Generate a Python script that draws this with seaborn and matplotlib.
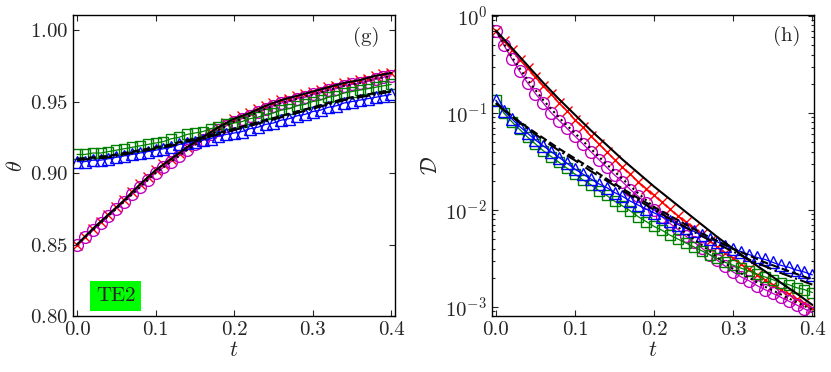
import numpy as np
import pandas as pd
import matplotlib
matplotlib.use("Agg")
import matplotlib.pyplot as plt
import seaborn as sns

# time grids
t_pts = np.round(np.arange(0, 0.4001, 0.01), 2)   # markers
t_line = np.round(np.arange(0, 0.4001, 0.02), 2)  # black curves

# ---- panel (g): theta ----
theta_cross = [0.850, 0.855, 0.861, 0.866, 0.871, 0.876, 0.881, 0.887, 0.892, 0.897,
               0.902, 0.906, 0.910, 0.914, 0.918, 0.922, 0.925, 0.929, 0.932, 0.935,
               0.938, 0.940, 0.942, 0.945, 0.947, 0.949, 0.951, 0.952, 0.954, 0.955,
               0.957, 0.958, 0.960, 0.961, 0.963, 0.964, 0.965, 0.966, 0.968, 0.969, 0.970]
theta_circle = [0.850, 0.855, 0.860, 0.865, 0.870, 0.875, 0.880, 0.885, 0.890, 0.895,
                0.900, 0.904, 0.908, 0.912, 0.916, 0.920, 0.923, 0.927, 0.930, 0.933,
                0.936, 0.938, 0.940, 0.943, 0.945, 0.947, 0.949, 0.950, 0.952, 0.953,
                0.955, 0.956, 0.958, 0.959, 0.961, 0.962, 0.963, 0.964, 0.966, 0.967, 0.968]
theta_square = [0.913, 0.913, 0.914, 0.914, 0.915, 0.916, 0.917, 0.918, 0.919, 0.920,
                0.921, 0.922, 0.924, 0.925, 0.927, 0.928, 0.929, 0.931, 0.932, 0.934,
                0.935, 0.936, 0.938, 0.939, 0.941, 0.942, 0.944, 0.945, 0.947, 0.948,
                0.950, 0.951, 0.953, 0.954, 0.956, 0.957, 0.958, 0.959, 0.960, 0.961, 0.962]
theta_triangle = [0.908, 0.908, 0.909, 0.909, 0.910, 0.911, 0.912, 0.913, 0.914, 0.915,
                  0.916, 0.917, 0.918, 0.920, 0.921, 0.922, 0.923, 0.924, 0.926, 0.927,
                  0.928, 0.929, 0.931, 0.932, 0.934, 0.935, 0.937, 0.938, 0.940, 0.941,
                  0.943, 0.944, 0.946, 0.947, 0.949, 0.950, 0.951, 0.952, 0.953, 0.954, 0.955]
theta_solid = [0.850, 0.861, 0.871, 0.881, 0.892, 0.902, 0.910, 0.918, 0.925, 0.932, 0.938,
               0.942, 0.947, 0.951, 0.954, 0.957, 0.960, 0.963, 0.965, 0.968, 0.970]
theta_dotted = [0.850, 0.860, 0.870, 0.880, 0.890, 0.900, 0.908, 0.916, 0.923, 0.930, 0.936,
                0.940, 0.945, 0.949, 0.952, 0.955, 0.958, 0.961, 0.963, 0.966, 0.968]
theta_dashed = [0.910, 0.911, 0.912, 0.914, 0.916, 0.918, 0.920, 0.923, 0.925, 0.928, 0.931,
                0.934, 0.937, 0.940, 0.943, 0.946, 0.949, 0.952, 0.954, 0.956, 0.958]
theta_dashdot = [0.909, 0.910, 0.911, 0.913, 0.915, 0.917, 0.919, 0.922, 0.924, 0.927, 0.930,
                 0.933, 0.936, 0.939, 0.942, 0.945, 0.948, 0.951, 0.953, 0.955, 0.957]

# ---- panel (h): D ----
D_cross = [0.692, 0.550, 0.447, 0.355, 0.288, 0.234, 0.191, 0.155, 0.126, 0.105,
           0.0851, 0.0708, 0.0575, 0.0479, 0.0398, 0.0331, 0.0275, 0.0234, 0.0195, 0.0166,
           0.0141, 0.0120, 0.0102, 0.00871, 0.00759, 0.00646, 0.00562, 0.00479, 0.00417, 0.00363,
           0.00316, 0.00275, 0.00245, 0.00214, 0.00191, 0.00170, 0.00151, 0.00135, 0.00120,
           0.00110, 0.000977]
D_circle = [0.692, 0.501, 0.363, 0.269, 0.204, 0.158, 0.126, 0.100, 0.0832, 0.0692,
            0.0575, 0.0479, 0.0398, 0.0331, 0.0275, 0.0229, 0.0195, 0.0162, 0.0138, 0.0117,
            0.0100, 0.00851, 0.00724, 0.00631, 0.00537, 0.00468, 0.00407, 0.00347, 0.00302, 0.00263,
            0.00229, 0.00204, 0.00186, 0.00166, 0.00151, 0.00138, 0.00126, 0.00115, 0.00105,
            0.000955, 0.000871]
D_square = [0.135, 0.100, 0.0813, 0.0676, 0.0562, 0.0479, 0.0407, 0.0355, 0.0309, 0.0269,
            0.0234, 0.0204, 0.0182, 0.0158, 0.0141, 0.0123, 0.0110, 0.00977, 0.00851, 0.00759,
            0.00676, 0.00617, 0.00550, 0.00501, 0.00457, 0.00417, 0.00380, 0.00347, 0.00316, 0.00288,
            0.00269, 0.00251, 0.00234, 0.00219, 0.00204, 0.00191, 0.00178, 0.00170, 0.00158,
            0.00151, 0.00141]
D_triangle = [0.135, 0.105, 0.0871, 0.0724, 0.0617, 0.0525, 0.0457, 0.0398, 0.0347, 0.0302,
              0.0263, 0.0234, 0.0209, 0.0186, 0.0170, 0.0151, 0.0138, 0.0123, 0.0112, 0.0102,
              0.00933, 0.00851, 0.00776, 0.00708, 0.00646, 0.00603, 0.00550, 0.00501, 0.00468, 0.00427,
              0.00398, 0.00372, 0.00347, 0.00324, 0.00309, 0.00288, 0.00269, 0.00257, 0.00240,
              0.00229, 0.00214]
D_solid = [0.708, 0.468, 0.309, 0.204, 0.138, 0.0955, 0.0661, 0.0468, 0.0331, 0.0240, 0.0174,
           0.0129, 0.00955, 0.00708, 0.00525, 0.00398, 0.00302, 0.00234, 0.00178, 0.00138, 0.00105]
D_dotted = [0.708, 0.380, 0.219, 0.135, 0.0891, 0.0617, 0.0427, 0.0295, 0.0209, 0.0148, 0.0107,
            0.00776, 0.00575, 0.00437, 0.00324, 0.00245, 0.00200, 0.00162, 0.00135, 0.00112, 0.000933]
D_dashed = [0.126, 0.0933, 0.0708, 0.0550, 0.0427, 0.0339, 0.0269, 0.0209, 0.0166, 0.0132, 0.0107,
            0.00871, 0.00708, 0.00575, 0.00479, 0.00398, 0.00339, 0.00288, 0.00251, 0.00219, 0.00191]
D_dashdot = [0.126, 0.0912, 0.0692, 0.0525, 0.0407, 0.0324, 0.0251, 0.0200, 0.0158, 0.0126, 0.0100,
             0.00813, 0.00661, 0.00537, 0.00447, 0.00372, 0.00309, 0.00263, 0.00224, 0.00195, 0.00170]

sns.set_style("ticks")
plt.rcParams['font.family'] = ['cmr10', 'DejaVu Serif']
plt.rcParams['mathtext.fontset'] = 'cm'
plt.rcParams['axes.formatter.use_mathtext'] = True
plt.rcParams['axes.unicode_minus'] = False

fig = plt.figure(figsize=(8.31, 3.72), dpi=100)
ax1 = fig.add_axes([0.088, 0.1505, 0.3875, 0.809])
ax2 = fig.add_axes([0.592, 0.1505, 0.3875, 0.809])

marker_series = [
    ('cross', 'x', 'r', 7),
    ('circle', 'o', 'm', 8.5),
    ('square', 's', 'g', 7.5),
    ('triangle', '^', 'b', 8),
]
line_series = [('solid', '-'), ('dotted', ':'), ('dashed', '--'), ('dashdot', '-.')]

data_g = {'cross': theta_cross, 'circle': theta_circle, 'square': theta_square,
          'triangle': theta_triangle, 'solid': theta_solid, 'dotted': theta_dotted,
          'dashed': theta_dashed, 'dashdot': theta_dashdot}
data_h = {'cross': D_cross, 'circle': D_circle, 'square': D_square,
          'triangle': D_triangle, 'solid': D_solid, 'dotted': D_dotted,
          'dashed': D_dashed, 'dashdot': D_dashdot}

for ax, data in [(ax1, data_g), (ax2, data_h)]:
    for key, mk, col, ms in marker_series:
        df = pd.DataFrame({'t': t_pts, 'y': data[key]})
        sns.lineplot(data=df, x='t', y='y', ax=ax, color=col, lw=0.9,
                     marker=mk, markersize=ms, markerfacecolor='none',
                     markeredgecolor=col, markeredgewidth=1.0)
    for key, ls in line_series:
        df = pd.DataFrame({'t': t_line, 'y': data[key]})
        sns.lineplot(data=df, x='t', y='y', ax=ax, color='k', lw=1.5, linestyle=ls)

ax1.set_xlim(-0.005, 0.405)
ax1.set_ylim(0.80, 1.0105)
ax1.set_yticks([0.80, 0.85, 0.90, 0.95, 1.00])
ax1.set_xticks([0.0, 0.1, 0.2, 0.3, 0.4])
ax1.set_ylabel(r'$\theta$', fontsize=16, labelpad=3)
ax1.text(0.385, 0.995, '(g)', fontsize=15, ha='right', va='center')
ax1.text(0.049, 0.814, 'TE2', fontsize=15, ha='center', va='center',
         bbox=dict(facecolor='#00ff00', edgecolor='none', pad=4))

ax2.set_yscale('log')
ax2.set_xlim(-0.005, 0.402)
ax2.set_ylim(8.07e-4, 1.02)
ax2.set_xticks([0.0, 0.1, 0.2, 0.3, 0.4])
ax2.set_ylabel(r'$\mathcal{D}$', fontsize=16, labelpad=3)
ax2.text(0.385, 0.62, '(h)', fontsize=15, ha='right', va='center')

for ax in (ax1, ax2):
    ax.set_xlabel(r'$t$', fontsize=16, labelpad=1)
    ax.tick_params(axis='both', which='both', direction='in', top=True, right=True,
                   labelsize=15, width=0.8)
    ax.tick_params(axis='both', which='major', length=4.5)
    ax.tick_params(axis='both', which='minor', length=2.5)
    for s in ax.spines.values():
        s.set_linewidth(1.0)
        s.set_color('k')

ax1.set_xticklabels(['0.0', '0.1', '0.2', '0.3', '0.4'])
ax2.set_xticklabels(['0.0', '0.1', '0.2', '0.3', '0.4'])

fig.savefig('out.png', dpi=100)
